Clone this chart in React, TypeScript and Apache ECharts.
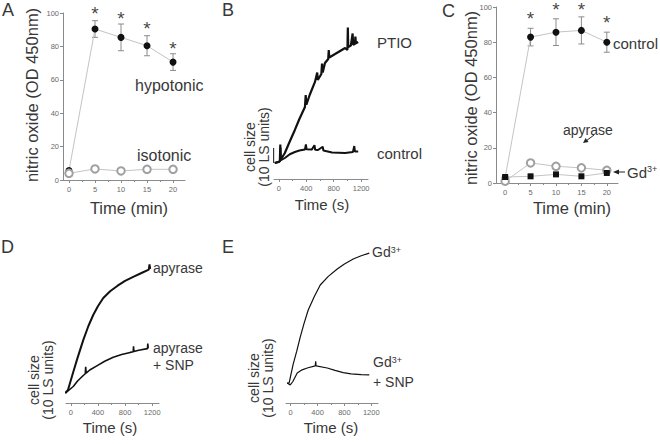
import React, { useEffect, useRef } from 'react';
import * as echarts from 'echarts';

// ---------- Panel A / C (nitric oxide, minutes) ----------
const timeMin = [0, 5, 10, 15, 20];
const starTimes = [5, 10, 15, 20];
const aHypo = [5.6, 90.4, 85.4, 80.4, 70.6];
const aHypoErr = [1, 5, 8, 6, 5];
const aIso = [4, 6.6, 5.4, 6.4, 6.4];
const aIsoErr = [1, 1, 1, 1, 1];
const aStars = [102, 99, 93, 81];

const cControl = [3, 82.9, 85.7, 86.7, 80];
const cControlErr = [1, 5, 7.6, 7.7, 5.7];
const cApyrase = [1, 11.4, 9.5, 8.6, 7.2];
const cApyraseErr = [0.5, 1, 1, 1, 1];
const cGd = [3.4, 3.8, 4.9, 3.8, 5.7];
const cStars = [95.6, 100.8, 100.8, 93.7];

const minTicks = [0, 5, 10, 15, 20];
const minMinorTicks = [2.5, 7.5, 12.5, 17.5];
const secTicks = [0, 400, 800, 1200];
const secMinorTicks = [200, 600, 1000];

// ---------- Panel B / D / E (cell size traces, seconds; 10 units = scale bar) ----------
const ptioB = [[-59,10.7],[0,11.5],[15,12],[22,23],[28,12.8],[88,17.3],[150,24],[234,32.7],[300,40],[381,48],[392,56],[402,49.5],[450,56],[527,64.7],[560,71],[568,66],[620,70],[630,77],[640,71],[673,77.3],[720,80],[728,86],[736,81],[820,83.3],[900,85.5],[966,87.3],[1000,86],[1006,101],[1012,88],[1050,89],[1076,97],[1084,89.5],[1110,90],[1116,95],[1124,90.5],[1157,91.3]];
const controlB = [[-59,10.7],[0,11.3],[18,12],[24,21],[30,12.5],[88,14],[160,16.5],[234,18],[300,19],[381,19.7],[395,23],[405,19.8],[480,19.6],[520,22.5],[530,19.5],[571,19.3],[640,21.5],[650,19],[776,17.7],[966,17.3],[1080,18],[1100,22],[1110,18.3],[1157,18.3]];
const barB = [[-75,10.7],[-75,20.7]];

const apyD = [[-81,4.5],[-40,6],[37,14.1],[100,20.5],[184,28.6],[260,35],[331,40],[400,44],[479,47.7],[580,50.8],[685,53.2],[800,55.5],[920,57.3],[1050,59.2],[1150,60.6],[1160,63],[1170,60.9]];
const snpD = [[-81,4.5],[37,7.5],[100,10],[184,12.5],[214,13.3],[220,16.5],[226,13.6],[280,15],[390,17],[500,19],[626,20.8],[750,22],[876,23],[920,23.3],[925,25.8],[930,23.4],[1000,24],[1130,24.7],[1135,27],[1141,24.8]];
const barD = [[-199,4.5],[-199,14.5]];

const gdE = [[-52,11.8],[-25,11.6],[37,22.9],[90,30.5],[142,38.8],[200,47],[261,54.7],[350,62.5],[440,69.4],[560,74.5],[693,78.8],[800,81.8],[931,84.7],[1050,86.6],[1170,88.2]];
const snpE = [[-52,11.8],[-7,10.6],[30,12.5],[97,17.6],[170,19.5],[246,20.6],[365,21.8],[372,24.5],[378,21.8],[544,20.6],[660,19.2],[782,17.9],[900,17.1],[1050,16.7],[1170,16.5]];
const barE = [[-142,12],[-142,22]];

const FONT = "'Liberation Sans', Arial, Helvetica, sans-serif";
const NARROW = "'Liberation Sans Narrow', 'Arial Narrow', 'Liberation Sans', sans-serif";
const AXIS = '#8a8a8a';
const TICKTXT = '#6a6a6a';
const INK = '#383838';

function pairs(xs: number[], ys: number[]) { return xs.map((x, i) => [x, ys[i]]); }
function errs(xs: number[], ys: number[], es: number[]) { return xs.map((x, i) => [x, ys[i] - es[i], ys[i] + es[i]]); }

function renderErr(params: any, api: any) {
  const x = api.value(0), lo = api.value(1), hi = api.value(2);
  const t = api.coord([x, hi]); const b = api.coord([x, lo]);
  const w = 3;
  const style = { stroke: '#8c8c8c', lineWidth: 1 };
  return { type: 'group', children: [
    { type: 'line', shape: { x1: t[0], y1: t[1], x2: b[0], y2: b[1] }, style },
    { type: 'line', shape: { x1: t[0] - w, y1: t[1], x2: t[0] + w, y2: t[1] }, style },
    { type: 'line', shape: { x1: b[0] - w, y1: b[1], x2: b[0] + w, y2: b[1] }, style },
  ] };
}

function xMain(gridIndex: number, min: number, max: number, ticks: number[]) {
  return {
    type: 'value', gridIndex, min, max, position: 'bottom',
    axisLine: { show: true, onZero: false, lineStyle: { color: AXIS, width: 1 } },
    axisTick: { show: true, customValues: ticks, length: 3, lineStyle: { color: AXIS } },
    axisLabel: { show: true, customValues: ticks, fontSize: 7.5, color: TICKTXT, fontFamily: NARROW, margin: 5, formatter: (v: number) => String(v) },
    splitLine: { show: false },
  };
}
function xMinor(gridIndex: number, min: number, max: number, ticks: number[]) {
  return {
    type: 'value', gridIndex, min, max, position: 'bottom',
    axisLine: { show: false, onZero: false },
    axisTick: { show: true, customValues: ticks, length: 2, lineStyle: { color: AXIS } },
    axisLabel: { show: false },
    splitLine: { show: false },
  };
}
function yNO(gridIndex: number) {
  return {
    type: 'value', gridIndex, min: 0, max: 100, interval: 20,
    axisLine: { show: true, onZero: false, lineStyle: { color: AXIS, width: 1 } },
    axisTick: { show: true, length: 3, lineStyle: { color: AXIS } },
    axisLabel: { show: true, fontSize: 7.5, color: TICKTXT, fontFamily: NARROW, margin: 4 },
    splitLine: { show: false },
  };
}
function yHidden(gridIndex: number, max: number) {
  return { type: 'value', gridIndex, min: 0, max, show: false, splitLine: { show: false } };
}

function txt(text: string, x: number, y: number, fontSize: number, o: any = {}) {
  return {
    type: 'text', x, y, rotation: o.rotation || 0, z: 100,
    style: { text, fontSize, fontFamily: FONT, fontWeight: 'normal', fill: o.fill || INK, align: o.align || 'left', verticalAlign: 'middle', lineHeight: o.lineHeight, rich: o.rich },
  };
}
const gdRich = (size: number) => ({
  a: { fontSize: size, fontFamily: FONT, fontWeight: 'normal', fill: INK },
  b: { fontSize: Math.round(size * 0.62), fontFamily: FONT, fontWeight: 'normal', fill: INK, verticalAlign: 'top' },
});

export default function App() {
  const ref = useRef<HTMLDivElement>(null);
  useEffect(() => {
    if (!ref.current) return;
    const chart = echarts.init(ref.current, null, { renderer: 'svg' });
    const lineGray = { color: '#c4c4c4', width: 1 };
    const trace = (data: number[][], xi: number, width: number) => ({
      type: 'line', data, xAxisIndex: xi, yAxisIndex: xi / 2, symbol: 'none', clip: false,
      lineStyle: { color: '#111', width }, z: 5,
    });
    const stars = (xs: number[], ys: number[], xi: number, yi: number) => ({
      type: 'scatter', data: pairs(xs, ys), xAxisIndex: xi, yAxisIndex: yi, symbolSize: 1, clip: false,
      itemStyle: { color: 'transparent' },
      label: { show: true, position: 'inside', formatter: '*', fontSize: 19, fontFamily: FONT, fontWeight: 'normal', color: '#111', offset: [0, 4] },
    });
    const option: any = {
      animation: false,
      grid: [
        { left: 63, top: 13, width: 122, height: 167, outerBoundsMode: 'none' },
        { left: 274, top: 29, width: 94, height: 150, outerBoundsMode: 'none' },
        { left: 496, top: 7, width: 122, height: 176, outerBoundsMode: 'none' },
        { left: 66, top: 249, width: 93, height: 154, outerBoundsMode: 'none' },
        { left: 286, top: 233, width: 92, height: 170, outerBoundsMode: 'none' },
      ],
      xAxis: [
        xMain(0, -1.15, 22.3, minTicks), xMinor(0, -1.15, 22.3, minMinorTicks),
        xMain(1, -70, 1300, secTicks), xMinor(1, -70, 1300, secMinorTicks),
        xMain(2, -1.8, 22.2, minTicks), xMinor(2, -1.8, 22.2, minMinorTicks),
        xMain(3, -70, 1300, secTicks), xMinor(3, -70, 1300, secMinorTicks),
        xMain(4, -70, 1300, secTicks), xMinor(4, -70, 1300, secMinorTicks),
      ],
      yAxis: [yNO(0), yHidden(1, 100), yNO(2), yHidden(3, 70), yHidden(4, 100)],
      series: [
        // Panel A
        { type: 'custom', renderItem: renderErr, data: errs(timeMin, aIso, aIsoErr), xAxisIndex: 0, yAxisIndex: 0, encode: { x: 0, y: [1, 2] }, z: 2 },
        { type: 'custom', renderItem: renderErr, data: errs(timeMin, aHypo, aHypoErr), xAxisIndex: 0, yAxisIndex: 0, encode: { x: 0, y: [1, 2] }, z: 2 },
        { type: 'line', data: pairs(timeMin, aHypo), xAxisIndex: 0, yAxisIndex: 0, symbol: 'circle', symbolSize: 7, lineStyle: lineGray, itemStyle: { color: '#111' }, z: 3 },
        { type: 'line', data: pairs(timeMin, aIso), xAxisIndex: 0, yAxisIndex: 0, symbol: 'emptyCircle', symbolSize: 7.5, lineStyle: lineGray, itemStyle: { color: '#a0a0a0', borderWidth: 1 }, z: 4 },
        stars(starTimes, aStars, 0, 0),
        // Panel B
        trace(barB, 2, 1), trace(controlB, 2, 2), trace(ptioB, 2, 2.2),
        // Panel C
        { type: 'custom', renderItem: renderErr, data: errs(timeMin, cApyrase, cApyraseErr), xAxisIndex: 4, yAxisIndex: 2, encode: { x: 0, y: [1, 2] }, z: 2 },
        { type: 'custom', renderItem: renderErr, data: errs(timeMin, cControl, cControlErr), xAxisIndex: 4, yAxisIndex: 2, encode: { x: 0, y: [1, 2] }, z: 2 },
        { type: 'line', data: pairs(timeMin, cControl), xAxisIndex: 4, yAxisIndex: 2, symbol: 'circle', symbolSize: 7, lineStyle: lineGray, itemStyle: { color: '#111' }, z: 3 },
        { type: 'line', data: pairs(timeMin, cApyrase), xAxisIndex: 4, yAxisIndex: 2, symbol: 'emptyCircle', symbolSize: 7.5, lineStyle: lineGray, itemStyle: { color: '#a0a0a0', borderWidth: 1 }, z: 3 },
        { type: 'line', data: pairs(timeMin, cGd), xAxisIndex: 4, yAxisIndex: 2, symbol: 'rect', symbolSize: 6, lineStyle: lineGray, itemStyle: { color: '#111' }, z: 4 },
        stars(starTimes, cStars, 4, 2),
        // Panel D
        trace(barD, 6, 1), trace(snpD, 6, 1.6), trace(apyD, 6, 2),
        // Panel E
        trace(barE, 8, 1), trace(snpE, 8, 1.2), trace(gdE, 8, 1.2),
      ],
      graphic: [
        txt('A', 2, 10, 18), txt('B', 222, 10, 18), txt('C', 442, 11, 18), txt('D', 1, 247, 18), txt('E', 222, 247, 18),
        txt('nitric oxide (OD 450nm)', 32, 95, 16.5, { rotation: Math.PI / 2, align: 'center' }),
        txt('Time (min)', 129, 208, 16.5, { align: 'center' }),
        txt('hypotonic', 135, 85, 16),
        txt('isotonic', 137, 155, 16),
        txt('cell size\n(10 LS units)', 257, 147, 14, { rotation: Math.PI / 2, align: 'center', lineHeight: 14 }),
        txt('Time (s)', 322, 204, 15, { align: 'center' }),
        txt('PTIO', 377, 42, 15),
        txt('control', 377, 153, 15),
        txt('nitric oxide (OD 450nm)', 471, 98, 16.5, { rotation: Math.PI / 2, align: 'center' }),
        txt('Time (min)', 572, 208, 16.5, { align: 'center' }),
        txt('control', 613, 43, 15),
        txt('apyrase', 563, 130, 14),
        txt('{a|Gd}{b|3+}', 627, 172, 15, { rich: gdRich(15) }),
        { type: 'line', shape: { x1: 594, y1: 135, x2: 586, y2: 141 }, style: { stroke: '#222', lineWidth: 1 }, z: 100 },
        { type: 'polygon', shape: { points: [[583, 143], [588.5, 142.1], [585.6, 138.1]] }, style: { fill: '#222' }, z: 100 },
        { type: 'line', shape: { x1: 625, y1: 172, x2: 617, y2: 172 }, style: { stroke: '#222', lineWidth: 1 }, z: 100 },
        { type: 'polygon', shape: { points: [[613, 172], [619, 169.5], [619, 174.5]] }, style: { fill: '#222' }, z: 100 },
        txt('cell size\n(10 LS units)', 41, 380, 14, { rotation: Math.PI / 2, align: 'center', lineHeight: 14 }),
        txt('Time (s)', 110, 427, 15, { align: 'center' }),
        txt('apyrase', 153, 268, 14),
        txt('apyrase', 153, 348, 14),
        txt('+ SNP', 153, 365, 14),
        txt('cell size\n(10 LS units)', 261, 378, 14, { rotation: Math.PI / 2, align: 'center', lineHeight: 14 }),
        txt('Time (s)', 331, 427, 15, { align: 'center' }),
        txt('{a|Gd}{b|3+}', 372, 252, 14, { rich: gdRich(14) }),
        txt('{a|Gd}{b|3+}', 373, 362, 14, { rich: gdRich(14) }),
        txt('+ SNP', 373, 382, 14),
      ],
    };
    chart.setOption(option);
    return () => chart.dispose();
  }, []);
  return <div ref={ref} style={{ position: 'absolute', left: 0, top: 0, width: 660, height: 444, background: '#fff' }} />;
}
